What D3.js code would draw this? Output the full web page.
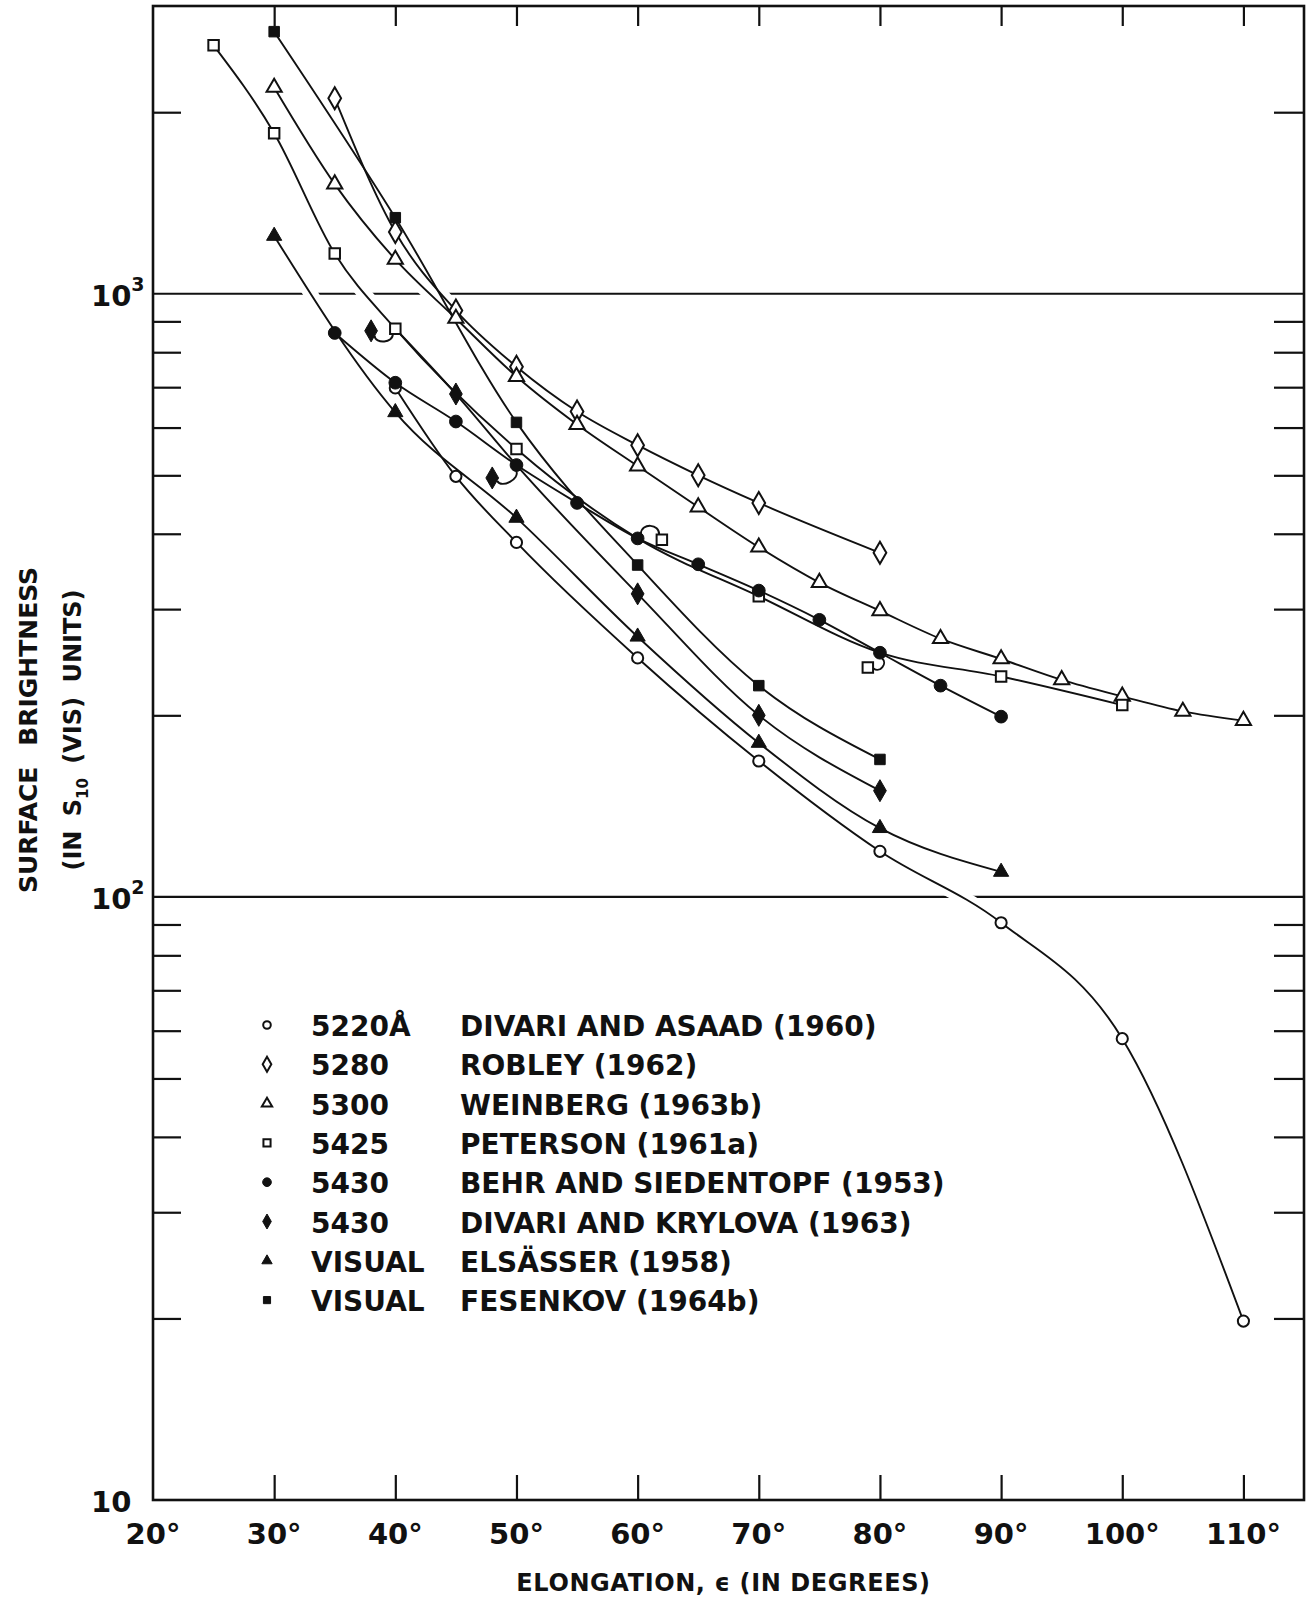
<!DOCTYPE html>
<html><head><meta charset="utf-8">
<script src="https://cdn.jsdelivr.net/npm/d3@7"></script>
<style>
body{margin:0;background:#fff}
text{font-family:"DejaVu Sans",sans-serif;font-weight:bold;fill:#111}
</style>
</head><body>
<svg id="chart" width="1316" height="1597"></svg>
<script>
// ---------- data ----------
const xTickValues = [20, 30, 40, 50, 60, 70, 80, 90, 100, 110];
const yMinorTicks = [20, 30, 40, 50, 60, 70, 80, 90, 200, 300, 400, 500, 600, 700, 800, 900, 2000];
const yMajorTicks = [10, 100, 1000];
const gridValues = [100, 1000];

const seriesKeys   = ["da", "robley", "weinberg", "peterson", "behr", "dk", "elsasser", "fesenkov"];
const wavelengths  = ["5220Å", "5280", "5300", "5425", "5430", "5430", "VISUAL", "VISUAL"];
const authors      = ["DIVARI AND ASAAD (1960)", "ROBLEY (1962)", "WEINBERG (1963b)", "PETERSON (1961a)",
                      "BEHR AND SIEDENTOPF (1953)", "DIVARI AND KRYLOVA (1963)", "ELSÄSSER (1958)", "FESENKOV (1964b)"];
const markerShapes = ["circle", "diamond", "triangle", "square", "circle", "diamond", "triangle", "square"];
const markerFilled = [false, false, false, false, true, true, true, true];

const daValues       = [[40, 698], [45, 498], [50, 387], [60, 249], [70, 168], [80, 119], [90, 90.6], [100, 58.2], [110, 19.8]];
const robleyValues   = [[35, 2109], [40, 1266], [45, 938], [50, 757], [55, 638], [60, 561], [65, 500], [70, 450], [80, 372]];
const weinbergValues = [[30, 2198], [35, 1520], [40, 1140], [45, 910], [50, 729], [55, 607], [60, 518], [65, 443], [70, 380],
                        [75, 332], [80, 298], [85, 268], [90, 248], [95, 229], [100, 215], [105, 203], [110, 196]];
const petersonValues = [[25, 2582], [30, 1846], [35, 1166], [40, 875], [50, 553], [62, 391], [70, 315], [79, 240], [90, 232], [100, 208]];
const behrValues     = [[35, 861], [40, 712], [45, 614], [50, 520], [55, 450], [60, 393], [65, 356], [70, 322], [75, 288],
                        [80, 254], [85, 224], [90, 199]];
const dkValues       = [[38, 868], [45, 682], [48, 495], [60, 318], [70, 200], [80, 150]];
const elsasserValues = [[30, 1247], [40, 636], [50, 425], [60, 270], [70, 180], [80, 130], [90, 110]];
const fesenkovValues = [[30, 2720], [40, 1337], [50, 612], [60, 355], [70, 224], [80, 169]];

// offset points joined by a small hook to a point of another curve: [series, elong, anchorSeries, anchorElong]
const hooks = [["dk", 38, "peterson", 40], ["dk", 48, "behr", 50], ["peterson", 62, "behr", 60], ["peterson", 79, "behr", 80]];

// ---------- layout ----------
const valuesByKey = {da: daValues, robley: robleyValues, weinberg: weinbergValues, peterson: petersonValues,
  behr: behrValues, dk: dkValues, elsasser: elsasserValues, fesenkov: fesenkovValues};
const hookBend = [9, 9, 11, 8];

const svg = d3.select("#chart");
const L = 153, R = 1304, T = 6, B = 1500;
const x = d3.scaleLinear().domain([20, 115]).range([L, R]);
const y = d3.scaleLog().domain([10, 3000]).range([B, T]);

// frame
svg.append("rect").attr("x", L).attr("y", T).attr("width", R - L).attr("height", B - T)
  .attr("fill", "none").attr("stroke", "#111").attr("stroke-width", 2.6);

// ticks via axes (inward)
const tickStyle = g => { g.select(".domain").remove(); g.selectAll("line").attr("stroke", "#111").attr("stroke-width", 2.2); };
svg.append("g").attr("transform", `translate(0,${B})`)
  .call(d3.axisBottom(x).tickValues(xTickValues.slice(1)).tickSizeInner(-25).tickSizeOuter(0).tickFormat(""))
  .call(tickStyle);
svg.append("g").attr("transform", `translate(0,${T})`)
  .call(d3.axisTop(x).tickValues(xTickValues.slice(1)).tickSizeInner(-20).tickSizeOuter(0).tickFormat(""))
  .call(tickStyle);
svg.append("g").attr("transform", `translate(${L},0)`)
  .call(d3.axisLeft(y).tickValues(yMinorTicks).tickSizeInner(-28).tickSizeOuter(0).tickFormat(""))
  .call(tickStyle);
svg.append("g").attr("transform", `translate(${R},0)`)
  .call(d3.axisRight(y).tickValues(yMinorTicks).tickSizeInner(-30).tickSizeOuter(0).tickFormat(""))
  .call(tickStyle);

// x tick labels
svg.append("g").selectAll("text").data(xTickValues).join("text")
  .attr("x", d => x(d)).attr("y", B + 44).attr("text-anchor", "middle")
  .attr("font-size", 29).text(d => d + "°");

// y tick labels
const yl = svg.append("g").selectAll("text").data(yMajorTicks).join("text")
  .attr("x", L - 62).attr("y", d => y(d) + 12).attr("font-size", 29);
yl.append("tspan").text("10");
yl.filter(d => d > 10).append("tspan").attr("dy", -15).attr("font-size", 19).text(d => Math.round(Math.log10(d)));

// axis titles
svg.append("text").attr("x", (L + R) / 2 - 5).attr("y", 1591).attr("text-anchor", "middle")
  .attr("font-size", 24).attr("letter-spacing", 0.6).text("ELONGATION, ϵ (IN DEGREES)");
const yt = svg.append("g").attr("transform", "translate(37,730) rotate(-90)");
yt.append("text").attr("text-anchor", "middle").attr("font-size", 25).attr("word-spacing", 12).text("SURFACE BRIGHTNESS");
const yt2 = yt.append("text").attr("y", 44).attr("text-anchor", "middle").attr("font-size", 24).attr("word-spacing", 6);
yt2.append("tspan").text("(IN S");
yt2.append("tspan").attr("font-size", 15).attr("dy", 7).text("10");
yt2.append("tspan").attr("dy", -7).text(" (VIS) UNITS)");

// ---------- curves ----------
const pt = (k, e) => valuesByKey[k].find(p => p[0] === e);
function lineNodes(k) {
  return valuesByKey[k].map(p => {
    const h = hooks.find(h => h[0] === k && h[1] === p[0]);
    return h ? pt(h[2], h[3]) : p;
  });
}
const line = d3.line().x(d => x(d[0])).y(d => y(d[1])).curve(d3.curveMonotoneX);

// gridlines
svg.append("g").selectAll("line").data(gridValues).join("line")
  .attr("x1", L).attr("x2", R).attr("y1", d => y(d)).attr("y2", d => y(d))
  .attr("stroke", "#111").attr("stroke-width", 2.2);

// breaks in gridlines where curves cross
const clip = svg.append("defs").append("clipPath").attr("id", "gridband");
clip.selectAll("rect").data(gridValues).join("rect")
  .attr("x", L + 2).attr("width", R - L - 4).attr("y", d => y(d) - 3).attr("height", 6);
svg.append("g").attr("clip-path", "url(#gridband)").selectAll("path").data(seriesKeys).join("path")
  .attr("d", k => line(lineNodes(k))).attr("fill", "none").attr("stroke", "#fff").attr("stroke-width", 14);

svg.append("g").selectAll("path").data(seriesKeys).join("path")
  .attr("d", k => line(lineNodes(k))).attr("fill", "none").attr("stroke", "#111").attr("stroke-width", 1.9);

// hooks (U-shaped arcs)
svg.append("g").selectAll("path").data(hooks).join("path")
  .attr("d", (h, i) => {
    const a = pt(h[0], h[1]), b = pt(h[2], h[3]);
    const ax = x(a[0]), ay = y(a[1]), bx = x(b[0]), by = y(b[1]);
    const dx = bx - ax, dy = by - ay, len = Math.hypot(dx, dy), ux = dx / len, uy = dy / len;
    const nx = -uy, ny = ux, k = hookBend[i];
    const sx = ax + ux * 3 + nx * 5, sy = ay + uy * 3 + ny * 5;
    const ex = bx - ux * 3 + nx * 5, ey = by - uy * 3 + ny * 5;
    return `M${sx},${sy}C${sx + nx * k},${sy + ny * k} ${ex + nx * k},${ey + ny * k} ${ex},${ey}`;
  })
  .attr("fill", "none").attr("stroke", "#111").attr("stroke-width", 1.9);

// ---------- markers ----------
const symbolType = {circle: d3.symbolCircle, diamond: d3.symbolDiamond, triangle: d3.symbolTriangle, square: d3.symbolSquare};
const symbolSize = {circle: 98, diamond: 140, triangle: 100, square: 110};
function drawMarker(sel, shape, filled, scale) {
  const s = symbolSize[shape] * (filled && shape === "circle" ? 1.3 : 1);
  sel.attr("d", d3.symbol().type(symbolType[shape]).size(s * scale * scale))
    .attr("fill", filled ? "#111" : "#fff").attr("stroke", "#111").attr("stroke-width", filled ? 1 : 2);
}
seriesKeys.forEach((k, i) => {
  svg.append("g").selectAll("path").data(valuesByKey[k]).join("path")
    .attr("transform", d => `translate(${x(d[0])},${y(d[1])})`)
    .call(drawMarker, markerShapes[i], markerFilled[i], 1);
});

// ---------- legend ----------
const legY0 = 1036, legStep = 39.3;
const leg = svg.append("g").selectAll("g").data(seriesKeys).join("g")
  .attr("transform", (d, i) => `translate(0,${legY0 + i * legStep})`);
leg.append("path").attr("transform", "translate(267,-11)")
  .each(function (d, i) { d3.select(this).call(drawMarker, markerShapes[i], markerFilled[i], 0.68); });
leg.append("text").attr("x", 311).attr("font-size", 28).text((d, i) => wavelengths[i]);
leg.append("text").attr("x", 460).attr("font-size", 28).text((d, i) => authors[i]);
</script>
</body></html>
